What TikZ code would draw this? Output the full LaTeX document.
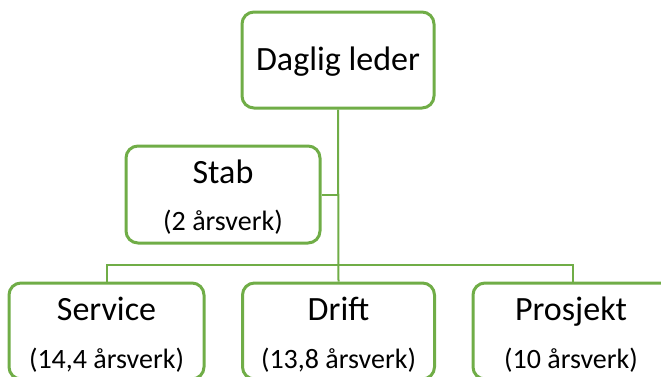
\documentclass[tikz,border=0pt]{standalone}
\usepackage{fontspec}
\setmainfont{Carlito}
\definecolor{ogreen}{HTML}{70AD47}
\begin{document}
\begin{tikzpicture}[x=1pt,y=-1pt,
  box/.style={draw=ogreen,line width=3pt,rounded corners=12pt,fill=white,inner sep=0pt},
  conn/.style={draw=ogreen,line width=2pt},
  big/.style={font=\fontsize{34}{38}\selectfont,inner sep=0pt,anchor=base},
  small/.style={font=\fontsize{28}{32}\selectfont,inner sep=0pt,anchor=base}]
\useasboundingbox (0,0) rectangle (661,376);
\clip (0,0) rectangle (661,376);
\node[box,minimum width=192pt,minimum height=96pt] (top) at (338,60) {};
\node[box,minimum width=194pt,minimum height=97pt] (stab) at (223,194.5) {};
\node[box,minimum width=195pt,minimum height=96pt] (service) at (106.5,331) {};
\node[box,minimum width=192pt,minimum height=96pt] (drift) at (338.5,331) {};
\node[box,minimum width=200pt,minimum height=96pt] (prosjekt) at (573,331) {};
\coordinate (bus) at (338.5,265);
\draw[conn] (top.south) -- (drift.north);
\draw[conn] (stab.east) -- (stab.east -| top.south);
\draw[conn] (service.north) |- (bus) -| (prosjekt.north);
\node[big] (t1) at (338,70) {Daglig leder};
\node[big] (s1) at (223,183) {Stab};
\node[small] (s2) at (223,230) {(2 årsverk)};
\node[big] (a1) at (106.5,320) {Service};
\node[small] (a2) at (106.5,368) {(14,4 årsverk)};
\node[big] (b1) at (338.5,320) {Drift};
\node[small] (b2) at (338.5,368) {(13,8 årsverk)};
\node[big] (c1) at (571,320) {Prosjekt};
\node[small] (c2) at (571,368) {(10 årsverk)};
\end{tikzpicture}
\end{document}
